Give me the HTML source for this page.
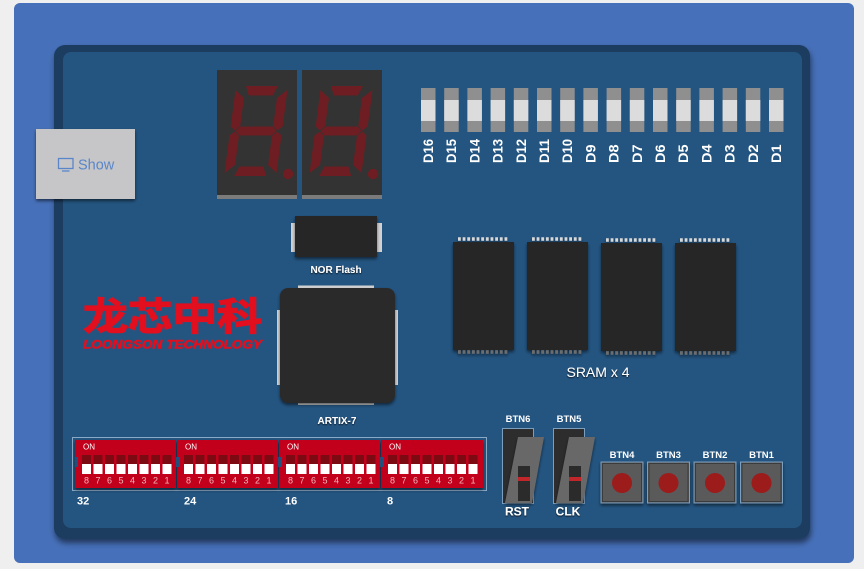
<!DOCTYPE html>
<html><head><meta charset="utf-8"><style>
html,body{margin:0;padding:0;background:#efefef;width:864px;height:569px;overflow:hidden;}
svg{display:block;}
text{font-family:"Liberation Sans","Noto Sans CJK SC",sans-serif;}
</style></head><body>
<svg width="864" height="569" viewBox="0 0 864 569" xmlns="http://www.w3.org/2000/svg">
<defs>
<filter id="sh" x="-30%" y="-30%" width="160%" height="170%"><feDropShadow dx="0" dy="2" stdDeviation="1.5" flood-color="#000" flood-opacity="0.55"/></filter>
<filter id="bsh" x="-10%" y="-10%" width="120%" height="125%"><feDropShadow dx="1" dy="4" stdDeviation="3" flood-color="#000" flood-opacity="0.5"/></filter>
<filter id="tsh" x="-20%" y="-50%" width="140%" height="200%"><feDropShadow dx="0" dy="1" stdDeviation="0.8" flood-color="#000" flood-opacity="0.8"/></filter>
<g id="digit">
  <g transform="translate(236,86) skewX(-7.5)" fill="#6e1e22">
    <polygon points="10,0 42,0 38,9.5 14,9.5"/>
    <polygon points="0,4 9.5,12 9.5,40 4.75,44.5 0,40.5"/>
    <polygon points="52,4 42.5,12 42.5,40 47.25,44.5 52,40.5"/>
    <polygon points="10,40.5 42,40.5 46.5,45 42,49.5 10,49.5 5.5,45"/>
    <polygon points="0,49.5 4.75,45.5 9.5,50 9.5,79 0,87"/>
    <polygon points="52,49.5 47.25,45.5 42.5,50 42.5,79 52,87"/>
    <polygon points="14,80.5 38,80.5 42,90 10,90"/>
  </g>
  <circle cx="288" cy="174" r="5.2" fill="#6e1e22"/>
</g>
<g id="sram">
  <rect x="0" y="0" width="61" height="108" fill="#262626"/>
  <line x1="5" y1="-3" x2="56" y2="-3" stroke="#d8d8d8" stroke-width="3.5" stroke-dasharray="2.8 1.85"/>
  <line x1="5" y1="110" x2="56" y2="110" stroke="#6d6d6d" stroke-width="3.5" stroke-dasharray="2.8 1.85"/>
</g>
<g id="slots">
  <rect x="7" y="15" width="9" height="9" fill="#7c0a12"/><rect x="7" y="24" width="9" height="10" fill="#fff"/>
  <rect x="18.5" y="15" width="9" height="9" fill="#7c0a12"/><rect x="18.5" y="24" width="9" height="10" fill="#fff"/>
  <rect x="30" y="15" width="9" height="9" fill="#7c0a12"/><rect x="30" y="24" width="9" height="10" fill="#fff"/>
  <rect x="41.5" y="15" width="9" height="9" fill="#7c0a12"/><rect x="41.5" y="24" width="9" height="10" fill="#fff"/>
  <rect x="53" y="15" width="9" height="9" fill="#7c0a12"/><rect x="53" y="24" width="9" height="10" fill="#fff"/>
  <rect x="64.5" y="15" width="9" height="9" fill="#7c0a12"/><rect x="64.5" y="24" width="9" height="10" fill="#fff"/>
  <rect x="76" y="15" width="9" height="9" fill="#7c0a12"/><rect x="76" y="24" width="9" height="10" fill="#fff"/>
  <rect x="87.5" y="15" width="9" height="9" fill="#7c0a12"/><rect x="87.5" y="24" width="9" height="10" fill="#fff"/>
</g>
<g id="led">
  <rect x="0" y="88" width="14.5" height="44" fill="#8f8f8f"/>
  <rect x="0" y="100" width="14.5" height="21" fill="#dcdcdc"/>
</g>
<g id="pb">
  <rect x="0" y="0" width="42" height="41" fill="#5a5a5a" stroke="#7c9fc0" stroke-width="1"/>
  <rect x="1.5" y="1.5" width="39" height="38" fill="none" stroke="#3a3a3a" stroke-width="1"/>
  <circle cx="21" cy="21" r="10" fill="#9c1b1b"/>
</g>
</defs>

<!-- outer frame -->
<rect x="14" y="3" width="840" height="560" rx="6" fill="#4670b9"/>

<!-- board -->
<rect x="54" y="45" width="756" height="494" rx="11" fill="#1b3d61" filter="url(#bsh)"/>
<rect x="63" y="52" width="739" height="476" rx="8" fill="#245581"/>

<!-- show button -->
<rect x="36" y="129" width="99" height="70" fill="#c6c6c8" filter="url(#sh)"/>
<rect x="58.5" y="158.5" width="14.5" height="10" fill="none" stroke="#5a86c9" stroke-width="1.3"/>
<line x1="62" y1="171" x2="69.5" y2="171" stroke="#5a86c9" stroke-width="1.3"/>
<text x="78" y="169.5" font-size="14.5" fill="#5a86c9">Show</text>

<!-- 7 segment -->
<rect x="217" y="70" width="80" height="125" fill="#333"/>
<rect x="217" y="195" width="80" height="4" fill="#7b7b7b"/>
<rect x="302" y="70" width="80" height="125" fill="#333"/>
<rect x="302" y="195" width="80" height="4" fill="#7b7b7b"/>
<use href="#digit"/>
<use href="#digit" x="85"/>

<!-- LEDs -->
<use href="#led" x="421"/><use href="#led" x="444.2"/><use href="#led" x="467.4"/><use href="#led" x="490.6"/>
<use href="#led" x="513.8"/><use href="#led" x="537"/><use href="#led" x="560.2"/><use href="#led" x="583.4"/>
<use href="#led" x="606.6"/><use href="#led" x="629.8"/><use href="#led" x="653"/><use href="#led" x="676.2"/>
<use href="#led" x="699.4"/><use href="#led" x="722.6"/><use href="#led" x="745.8"/><use href="#led" x="769"/>
<g font-size="14" font-weight="bold" fill="#fff">
<text transform="translate(433,163) rotate(-90)" textLength="24" lengthAdjust="spacingAndGlyphs">D16</text>
<text transform="translate(456.2,163) rotate(-90)" textLength="24" lengthAdjust="spacingAndGlyphs">D15</text>
<text transform="translate(479.4,163) rotate(-90)" textLength="24" lengthAdjust="spacingAndGlyphs">D14</text>
<text transform="translate(502.6,163) rotate(-90)" textLength="24" lengthAdjust="spacingAndGlyphs">D13</text>
<text transform="translate(525.8,163) rotate(-90)" textLength="24" lengthAdjust="spacingAndGlyphs">D12</text>
<text transform="translate(549,163) rotate(-90)" textLength="24" lengthAdjust="spacingAndGlyphs">D11</text>
<text transform="translate(572.2,163) rotate(-90)" textLength="24" lengthAdjust="spacingAndGlyphs">D10</text>
<text transform="translate(595.4,163) rotate(-90)" textLength="18.5" lengthAdjust="spacingAndGlyphs">D9</text>
<text transform="translate(618.6,163) rotate(-90)" textLength="18.5" lengthAdjust="spacingAndGlyphs">D8</text>
<text transform="translate(641.8,163) rotate(-90)" textLength="18.5" lengthAdjust="spacingAndGlyphs">D7</text>
<text transform="translate(665,163) rotate(-90)" textLength="18.5" lengthAdjust="spacingAndGlyphs">D6</text>
<text transform="translate(688.2,163) rotate(-90)" textLength="18.5" lengthAdjust="spacingAndGlyphs">D5</text>
<text transform="translate(711.4,163) rotate(-90)" textLength="18.5" lengthAdjust="spacingAndGlyphs">D4</text>
<text transform="translate(734.6,163) rotate(-90)" textLength="18.5" lengthAdjust="spacingAndGlyphs">D3</text>
<text transform="translate(757.8,163) rotate(-90)" textLength="18.5" lengthAdjust="spacingAndGlyphs">D2</text>
<text transform="translate(781,163) rotate(-90)" textLength="18.5" lengthAdjust="spacingAndGlyphs">D1</text>
</g>

<!-- NOR flash -->
<rect x="291" y="223" width="5" height="29" fill="#d2d2d2"/>
<rect x="377" y="223" width="5" height="29" fill="#d2d2d2"/>
<rect x="295" y="216" width="82" height="41" fill="#272727" filter="url(#sh)"/>
<text x="336" y="273" font-size="10" font-weight="bold" fill="#fff" text-anchor="middle" filter="url(#tsh)">NOR Flash</text>

<!-- ARTIX -->
<rect x="298" y="285.5" width="76" height="3" fill="#d2d2d2"/>
<rect x="298" y="402" width="76" height="3" fill="#d2d2d2"/>
<rect x="277" y="310" width="4" height="75" fill="#d2d2d2"/>
<rect x="394" y="310" width="4" height="75" fill="#d2d2d2"/>
<rect x="280" y="288" width="115" height="115" rx="8" fill="#2a2a2a" filter="url(#sh)"/>
<text x="337" y="424" font-size="10" font-weight="bold" fill="#fff" text-anchor="middle" filter="url(#tsh)">ARTIX-7</text>

<!-- logo -->
<text x="83" y="330" font-size="38" font-weight="bold" fill="#e20f1f" stroke="#e20f1f" stroke-width="1.2" textLength="179" lengthAdjust="spacingAndGlyphs" style='font-family:"Noto Sans CJK SC","WenQuanYi Zen Hei",sans-serif'>龙芯中科</text>
<text x="83" y="348.5" font-size="11.5" font-weight="bold" font-style="italic" fill="#e20f1f" stroke="#e20f1f" stroke-width="0.5" textLength="179" lengthAdjust="spacingAndGlyphs">LOONGSON TECHNOLOGY</text>

<!-- SRAM -->
<g filter="url(#sh)">
<use href="#sram" x="453" y="242"/>
<use href="#sram" x="527" y="242"/>
<use href="#sram" x="601" y="243"/>
<use href="#sram" x="675" y="243"/>
</g>
<text x="598" y="377" font-size="14" fill="#fff" text-anchor="middle" filter="url(#tsh)">SRAM x 4</text>

<!-- DIP switches -->
<rect x="72.5" y="437.5" width="414" height="53" fill="none" stroke="#8aa9c6" stroke-width="1"/>
<g filter="url(#sh)">
<rect x="75" y="440" width="101" height="48" fill="#c3001a"/>
<rect x="177" y="440" width="101" height="48" fill="#c3001a"/>
<rect x="279" y="440" width="101" height="48" fill="#c3001a"/>
<rect x="381" y="440" width="102" height="48" fill="#c3001a"/>
</g>
<rect x="75" y="457" width="3" height="10" fill="#23507a"/>
<rect x="176" y="457" width="4" height="10" fill="#23507a"/>
<rect x="278" y="457" width="4" height="10" fill="#23507a"/>
<rect x="380" y="457" width="4" height="10" fill="#23507a"/>
<use href="#slots" x="75" y="440"/>
<use href="#slots" x="177" y="440"/>
<use href="#slots" x="279" y="440"/>
<use href="#slots" x="381" y="440"/>
<g font-size="8" fill="#fff">
<text x="83" y="449.5">ON</text><text x="185" y="449.5">ON</text><text x="287" y="449.5">ON</text><text x="389" y="449.5">ON</text>
</g>
<g font-size="9" fill="#f2b5bd" text-anchor="middle">
<text x="86.5 98 109.5 121 132.5 144 155.5 167" y="483.5">87654321</text>
<text x="188.5 200 211.5 223 234.5 246 257.5 269" y="483.5">87654321</text>
<text x="290.5 302 313.5 325 336.5 348 359.5 371" y="483.5">87654321</text>
<text x="392.5 404 415.5 427 438.5 450 461.5 473" y="483.5">87654321</text>
</g>
<g font-size="11" font-weight="bold" fill="#fff">
<text x="77" y="504.5">32</text><text x="184" y="504.5">24</text><text x="285" y="504.5">16</text><text x="387" y="504.5">8</text>
</g>

<!-- sliders -->
<g font-size="9.5" font-weight="bold" fill="#fff" text-anchor="middle">
<text x="518" y="422">BTN6</text><text x="569" y="422">BTN5</text>
<text x="622" y="458">BTN4</text><text x="668.5" y="458">BTN3</text><text x="715" y="458">BTN2</text><text x="761.5" y="458">BTN1</text>
</g>
<rect x="502.5" y="428.5" width="31" height="75" fill="#2d2d2d" stroke="#7c9fc0" stroke-width="1"/>
<polygon points="518,437 544,437 532,503 505,503" fill="#676767" filter="url(#sh)"/>
<rect x="518" y="466" width="12" height="35" fill="#2b2b2b"/>
<rect x="518" y="477" width="12" height="4" fill="#c1262b"/>
<rect x="553.5" y="428.5" width="31" height="75" fill="#2d2d2d" stroke="#7c9fc0" stroke-width="1"/>
<polygon points="569,437 595,437 583,503 556,503" fill="#676767" filter="url(#sh)"/>
<rect x="569" y="466" width="12" height="35" fill="#2b2b2b"/>
<rect x="569" y="477" width="12" height="4" fill="#c1262b"/>
<g font-size="12" font-weight="bold" fill="#fff" text-anchor="middle" filter="url(#tsh)">
<text x="517" y="515.5">RST</text><text x="568" y="515.5">CLK</text>
</g>

<!-- push buttons -->
<g filter="url(#sh)">
<use href="#pb" x="601" y="462"/>
<use href="#pb" x="647.5" y="462"/>
<use href="#pb" x="694" y="462"/>
<use href="#pb" x="740.5" y="462"/>
</g>
</svg>
</body></html>
